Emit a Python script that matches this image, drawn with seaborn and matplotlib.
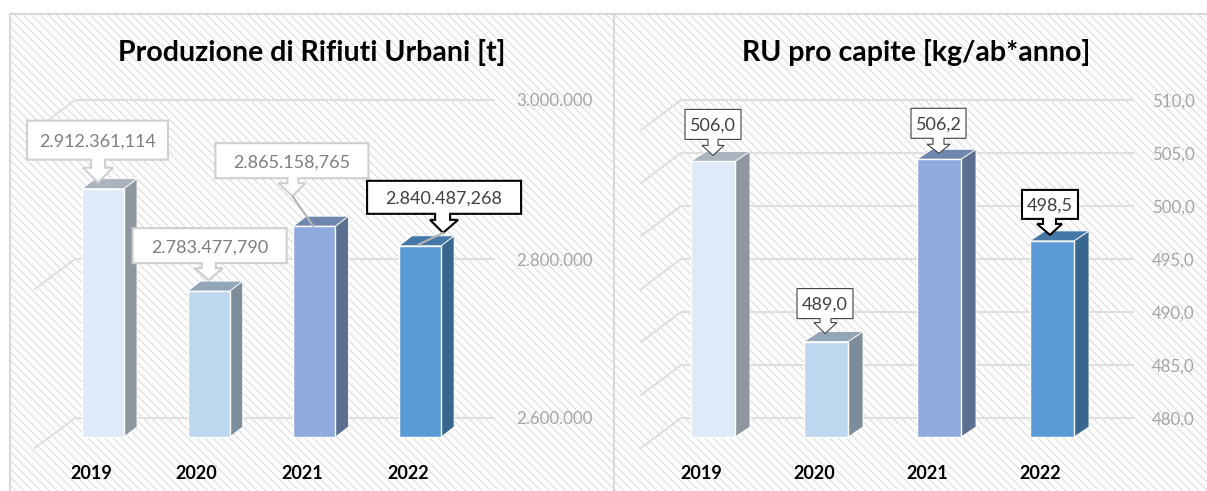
import matplotlib
matplotlib.use("Agg")
import matplotlib.pyplot as plt
import matplotlib.transforms as mtransforms
from matplotlib.patches import Polygon
import seaborn as sns

years = ["2019", "2020", "2021", "2022"]
bar_colors = ["#DEEAF7", "#BDD7EE", "#8FAADC", "#5B9BD5"]
side_colors = ["#8E979F", "#7C8D9B", "#5D6F91", "#38668F"]
top_colors = ["#A9B4BE", "#93A6B8", "#6F86AE", "#4578A6"]

rifiuti_values = [2912361.114, 2783477.790, 2865158.765, 2840487.268]
rifiuti_labels = ["2.912.361,114", "2.783.477,790", "2.865.158,765", "2.840.487,268"]
rifiuti_ticks = [2600000, 2800000, 3000000]
rifiuti_ticklabels = ["2.600.000", "2.800.000", "3.000.000"]

procapite_values = [506.0, 489.0, 506.2, 498.5]
procapite_labels = ["506,0", "489,0", "506,2", "498,5"]
procapite_ticks = [480, 485, 490, 495, 500, 505, 510]
procapite_ticklabels = ["480,0", "485,0", "490,0", "495,0", "500,0", "505,0", "510,0"]

W, H = 1207, 491
PANEL_TOP = 14
FLOOR_PX = 437
BORDER = "#D9D9D9"
GRID = "#DFDFDF"


def shifted(ax, dx, dy):
    # data coords moved by some screen pixels
    return ax.transData + mtransforms.Affine2D().translate(dx, dy)


def callout(ax, i, value, text, box, stem, tip, color, text_color, lw, leader=None):
    # box = left, top, right, bottom in pixels from the bar top, y going down
    # stem = stem left, stem right, head left, head right, neck y
    left, top, right, bottom = box
    s0, s1, h0, h1, neck = stem
    pts = [(left, top), (right, top), (right, bottom), (s1, bottom), (s1, neck),
           (h1, neck), tip, (h0, neck), (s0, neck), (s0, bottom), (left, bottom)]
    tr = mtransforms.Affine2D().scale(1, -1) + mtransforms.ScaledTranslation(i, value, ax.transData)
    ax.add_patch(Polygon(pts, closed=True, facecolor="white", edgecolor=color, linewidth=lw,
                         transform=tr, zorder=6, joinstyle="miter"))
    if leader is not None:
        ax.plot([tip[0], leader[0]], [tip[1], leader[1]], color="#B4B4B4", lw=1.5, transform=tr, zorder=6)
    ax.text((left + right) / 2, (top + bottom) / 2, text, transform=tr, ha="center", va="center_baseline",
            fontsize=13, color=text_color, zorder=7)


def panel(rect, values, labels, ticks, ticklabels, base, px_per_unit, centers, bar_w, depth,
          title, title_x, tick_x, grid_px, callouts):
    x0, x1 = rect
    ax = fig.add_axes([x0 / W, 0, (x1 - x0) / W, (H - PANEL_TOP) / H])

    sns.barplot(x=years, y=values, hue=years, palette=bar_colors, legend=False, saturation=1,
                width=bar_w / (centers[1] - centers[0]), edgecolor="white", linewidth=1, ax=ax, zorder=4)

    # scales set so that the category and value axes land where they do in the picture
    step = centers[1] - centers[0]
    ax.set_xlim((x0 - centers[0]) / step, (x1 - centers[0]) / step)
    ax.set_ylim(base - (H - FLOOR_PX) / px_per_unit, base + (FLOOR_PX - PANEL_TOP) / px_per_unit)

    ax.patch.set_facecolor("white")
    ax.patch.set_hatch("\\\\\\\\")
    ax.patch.set_edgecolor("#D9D9D9")
    ax.patch.set_linewidth(0)

    for s in ["top", "left", "right", "bottom"]:
        ax.spines[s].set_color(BORDER)
        ax.spines[s].set_linewidth(1.5)
    ax.spines["bottom"].set_visible(False)
    ax.spines["right"].set_visible(x1 < W)

    # bars start from the base of the value axis, then get their 3d faces
    dx, dy = depth
    for bar, val, side, top in zip(ax.patches, values, side_colors, top_colors):
        bar.set_y(base)
        bar.set_height(val - base)
        xa, xb = bar.get_x(), bar.get_x() + bar.get_width()
        (pa, pb, pc) = ax.transData.transform([(xa, val), (xb, val), (xb, base)])
        ax.add_patch(Polygon([pb, pb + (dx, dy), pc + (dx, dy), pc], closed=True, facecolor=side, edgecolor="white",
                             linewidth=0.6, transform=mtransforms.IdentityTransform(), zorder=3))
        ax.add_patch(Polygon([pa, pb, pb + (dx, dy), pa + (dx, dy)], closed=True, facecolor=top, edgecolor="white",
                             linewidth=0.6, transform=mtransforms.IdentityTransform(), zorder=3))

    # back wall gridlines and their short diagonals on the side wall
    back = shifted(ax, 0, 19)
    grid_x0, grid_x1 = grid_px
    for t in ticks:
        xa = (grid_x0 - centers[0]) / step
        xb = (grid_x1 - centers[0]) / step
        ax.plot([xa, xb], [t, t], color=GRID, lw=1.5, transform=back, zorder=1, solid_capstyle="butt")
        py = ax.transData.transform((0, t))[1] + 19
        ax.plot([grid_x0, grid_x0 - 40], [py, py - 30], color=GRID, lw=1.5,
                transform=mtransforms.IdentityTransform(), zorder=1)

    ax.set_xticks(range(len(years)))
    ax.set_xticklabels(years, fontweight="bold", fontsize=13, color="black")
    ax.tick_params(axis="x", length=0, pad=-18.7)
    for lab in ax.get_xticklabels():
        lab.set_transform(lab.get_transform() + mtransforms.Affine2D().translate(-12, 0))

    ax.yaxis.tick_right()
    ax.set_yticks(ticks)
    ax.set_yticklabels(ticklabels, fontsize=12.2, color="#A6A6A6")
    ax.tick_params(axis="y", length=0, pad=-(x1 - tick_x) * 0.72)
    for lab in ax.get_yticklabels():
        lab.set_transform(lab.get_transform() + mtransforms.Affine2D().translate(0, 19))

    ax.set_xlabel("")
    ax.set_ylabel("")

    ax.text((title_x - x0) / (x1 - x0), 1 - (53 - PANEL_TOP) / (H - PANEL_TOP), title, transform=ax.transAxes,
            ha="center", va="center", fontsize=20.5, fontweight="bold", color="black")

    for i, (val, lab, c) in enumerate(zip(values, labels, callouts)):
        callout(ax, i, val, lab, *c)
    return ax


sns.set_theme(style="white")
plt.rcParams["font.family"] = ["Lato", "DejaVu Sans"]
plt.rcParams["hatch.linewidth"] = 0.7

fig = plt.figure(figsize=(W / 100, H / 100), dpi=100, facecolor="white")

GREY, DARK = "#CFCFCF", "#7F7F7F"
left_callouts = [
    ((-76, -68, 65, -29), (-12, 2, -20, 10, -21), (-5, -6), GREY, DARK, 1.5),
    ((-76, -63, 78, -28), (-7, 7, -14, 14, -23), (0, -11), GREY, DARK, 1.5),
    ((-99, -83, 54, -48), (-27, -16, -36, -9, -43), (-22, -30), GREY, DARK, 1.5, (-1, 0)),
    ((-53, -65, 101, -32), (15, 30, 10, 38, -26), (23, -13), "black", "#404040", 1.5, (-2, -1)),
]
right_callouts = [
    ((-28, -52, 28, -22), (-5, 5, -11, 11, -16), (0, -6), "#404040", "#404040", 0.8),
    ((-29, -53, 27, -23), (-6, 5, -12, 11, -19), (-1, -8), "#404040", "#404040", 0.8),
    ((-28, -51, 27, -21), (-6, 5, -12, 11, -15), (0, -6), "#404040", "#404040", 0.8),
    ((-30, -51, 26, -22), (-9, 4, -15, 10, -17), (-2, -6), "black", "#404040", 1.5),
]

panel((10, 614), rifiuti_values, rifiuti_labels, rifiuti_ticks, rifiuti_ticklabels, 2600000, 159 / 200000,
      [103, 208.7, 314.4, 420], 42, (13, 10), "Produzione di Rifiuti Urbani [t]", 311.5, 516, (75, 495), left_callouts)
panel((614, W), procapite_values, procapite_labels, procapite_ticks, procapite_ticklabels, 480, 10.6,
      [713, 826, 939, 1052], 44, (15, 10), "RU pro capite [kg/ab*anno]", 916, 1152, (681, 1134), right_callouts)

fig.savefig("out.png", dpi=100)
